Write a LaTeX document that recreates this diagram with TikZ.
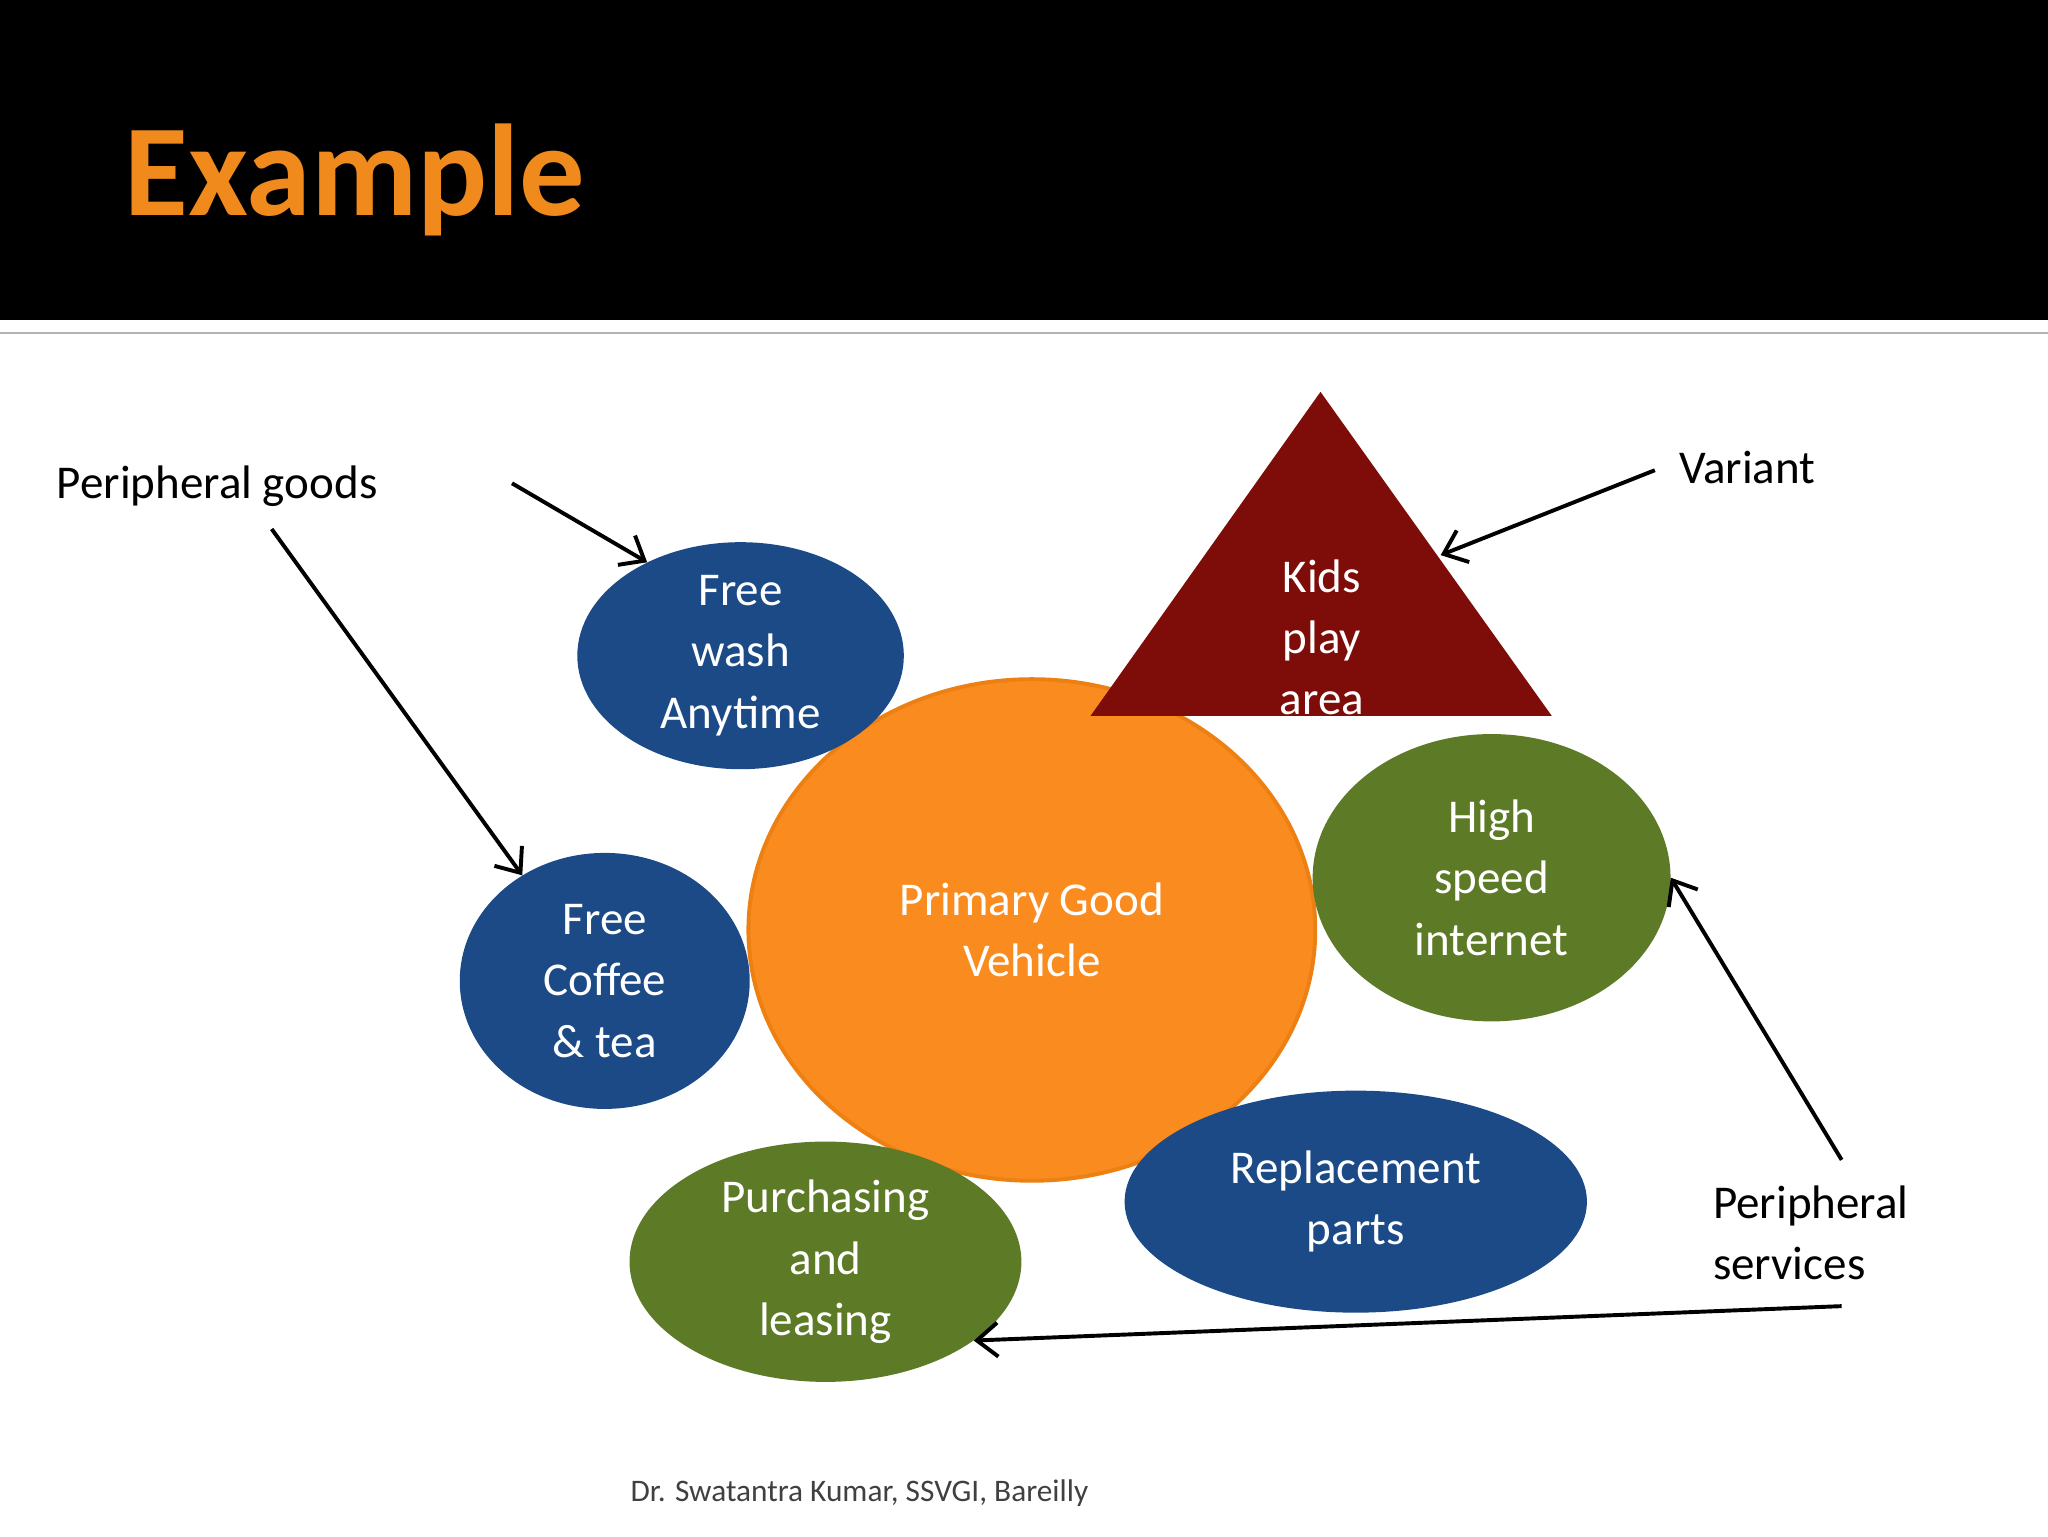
\documentclass[tikz,border=0pt]{standalone}
\usepackage{fontspec}
\setmainfont{Carlito}
\usetikzlibrary{shapes.geometric,arrows.meta}
\definecolor{bandblack}{HTML}{000000}
\definecolor{titleorange}{HTML}{F08A1C}
\definecolor{goodblue}{HTML}{1B4A87}
\definecolor{goodgreen}{HTML}{5D7A26}
\definecolor{primorange}{HTML}{F98B1F}
\definecolor{kidsred}{HTML}{7E0C08}
\tikzset{
  blob/.style={ellipse,draw=none,text=white,align=center,inner sep=0pt,
    font=\fontsize{36}{47}\selectfont},
  lbl/.style={anchor=west,align=left,font=\fontsize{36}{47}\selectfont},
  pointer/.style={line width=3pt,-{Straight Barb[length=16pt,width=26pt,line width=3pt]}}
}
\begin{document}
\begin{tikzpicture}[x=1pt,y=-1pt]
  \useasboundingbox (0,0) rectangle (1568,1176);
  % title band
  \fill[bandblack] (0,0) rectangle (1568,245);
  \draw[gray!60,line width=2pt] (0,255) -- (1568,255);
  \node[anchor=base west,text=titleorange,font=\fontsize{100}{100}\selectfont\bfseries] (title) at (92,165) {Example};
  % Node: primary good
  \node[blob,fill=primorange,draw=orange!70!brown,line width=3pt,minimum width=434pt,minimum height=384pt] (prim) at (790,712) {Primary Good\\Vehicle};
  % Node: kids play area
  \fill[kidsred] (1011,300) -- (1188,548) -- (835,548) -- cycle;
  \node[blob,text=white] (kids) at (1012,488) {Kids\\play\\area};
  % Nodes: peripheral goods and services
  \node[blob,fill=goodblue,minimum width=250pt,minimum height=170pt] (wash) at (567,502) {Free\\wash\\Anytime};
  \node[blob,fill=goodblue,minimum width=222pt,minimum height=196pt] (coffee) at (463,751) {Free\\Coffee\\\& tea};
  \node[blob,fill=goodgreen,minimum width=274pt,minimum height=220pt] (net) at (1142,672) {High\\speed\\internet};
  \node[blob,fill=goodblue,minimum width=354pt,minimum height=170pt] (parts) at (1038,920) {Replacement\\parts};
  \node[blob,fill=goodgreen,minimum width=300pt,minimum height=184pt] (lease) at (632,966) {Purchasing\\and\\leasing};
  % labels
  \node[lbl] (pgoods) at (40,372) {Peripheral goods};
  \node[lbl] (variant) at (1282,358) {Variant};
  \node[lbl] (pserv) at (1308,944) {Peripheral\\services};
  \node[anchor=center,text=black!75,font=\fontsize{24}{28}\selectfont] (footer) at (658,1143) {Dr. Swatantra Kumar, SSVGI, Bareilly};
  % pointers
  \coordinate (g1) at (392,370);
  \coordinate (g2) at (208,405);
  \coordinate (v1) at (1267,360);
  \coordinate (s1) at (1410,888);
  \coordinate (s2) at (1410,1000);
  \draw[pointer] (g1) -- (wash.135);
  \draw[pointer] (g2) -- (coffee.128);
  \draw[pointer] (v1) -- (1103,425);
  \draw[pointer] (s1) -- (net.east);
  \draw[pointer] (s2) -- (lease.-28);
\end{tikzpicture}
\end{document}
